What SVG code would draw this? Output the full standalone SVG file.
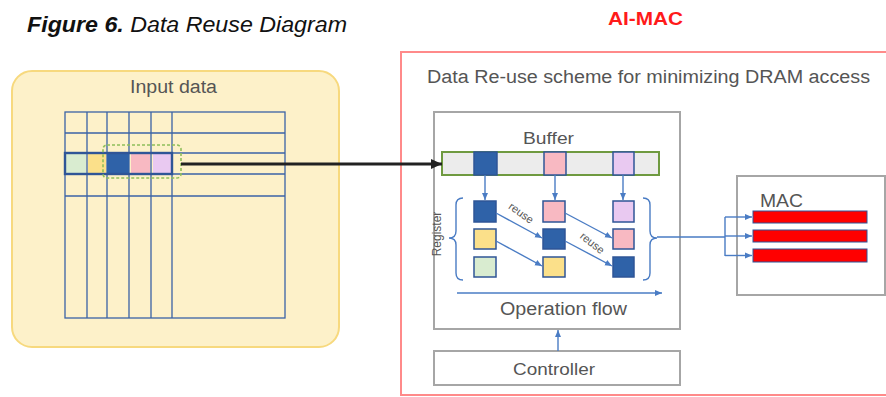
<svg xmlns="http://www.w3.org/2000/svg" width="886" height="397" viewBox="0 0 886 397">
<defs>
<style>
text{font-family:"Liberation Sans",Arial,sans-serif;fill:#555}
.grid{stroke:#3b63a6;stroke-width:1.3;fill:none}
.cell{stroke:#2f5597;stroke-width:1.5}
.db{fill:#2f62a8}.pk{fill:#f8b9c2}.lv{fill:#e9c9f1}.yl{fill:#fbe08a}.gr{fill:#d9ecd0}
.bl{stroke:#4a7cc4;stroke-width:1.4;fill:none}
.box{fill:#fff;stroke:#a6a6a6;stroke-width:2}
.red{fill:#ff0000;stroke:#2f5597;stroke-width:1}
</style>
<marker id="ab" markerWidth="8" markerHeight="8" refX="7" refY="4" orient="auto" markerUnits="userSpaceOnUse"><path d="M0,1 L7,4 L0,7 Z" fill="#4a7cc4"/></marker>
<marker id="ak" markerWidth="12" markerHeight="12" refX="11" refY="6" orient="auto" markerUnits="userSpaceOnUse"><path d="M0,1 L11,6 L0,11 Z" fill="#222"/></marker>
</defs>
<rect width="886" height="397" fill="#fff"/>
<text x="27" y="32" font-size="22" font-style="italic" style="fill:#111" textLength="320" lengthAdjust="spacingAndGlyphs"><tspan font-weight="bold">Figure 6.</tspan> Data Reuse Diagram</text>
<text x="608" y="25" font-size="18" font-weight="bold" style="fill:#ff1a1a" textLength="75" lengthAdjust="spacingAndGlyphs">AI-MAC</text>

<g id="input">
<rect x="12" y="71" width="327" height="276" rx="20" fill="#fdf1c9" stroke="#f7d97e" stroke-width="2"/>
<text x="130" y="93" font-size="18" textLength="87" lengthAdjust="spacingAndGlyphs">Input data</text>
<rect x="65" y="112" width="220" height="206" class="grid" stroke-width="2.2"/>
<path class="grid" d="M87,112V318M107,112V318M129,112V318M151,112V318M172,112V318M65,133H285M65,153H285M65,174H285M65,196H285"/>
<rect x="66" y="154" width="20" height="19" class="gr"/>
<rect x="88" y="154" width="18" height="19" class="yl"/>
<rect x="107" y="154" width="22" height="19" class="db"/>
<rect x="131" y="154" width="19" height="19" class="pk"/>
<rect x="153" y="154" width="19" height="19" class="lv"/>
<rect x="65" y="153" width="107" height="21" fill="none" stroke="#2f5597" stroke-width="2.4"/>
<rect x="103" y="145" width="78" height="33" rx="4" fill="none" stroke="#8fbf5a" stroke-width="1.6" stroke-dasharray="3,2"/>
</g>

<g id="aimac">
<rect x="401" y="52" width="490" height="343" fill="none" stroke="#ff8a8a" stroke-width="2"/>
<text x="427" y="83" font-size="18" textLength="443" lengthAdjust="spacingAndGlyphs">Data Re-use scheme for minimizing DRAM access</text>
</g>

<g id="core">
<rect x="434" y="112" width="246" height="217" class="box"/>
<text x="523" y="144" font-size="17" textLength="51" lengthAdjust="spacingAndGlyphs">Buffer</text>
<rect x="442" y="152" width="217" height="23" fill="#ececec" stroke="#6f9a40" stroke-width="2"/>
<rect x="474" y="152" width="23" height="23" class="cell db"/>
<rect x="544" y="152" width="22" height="23" class="cell pk"/>
<rect x="613" y="152" width="21" height="23" class="cell lv"/>
<text transform="translate(441,234) rotate(-90)" font-size="12" text-anchor="middle">Register</text>
<rect x="474" y="201" width="22" height="21" class="cell db"/>
<rect x="474" y="229" width="22" height="20" class="cell yl"/>
<rect x="474" y="257" width="22" height="20" class="cell gr"/>
<rect x="543" y="201" width="22" height="21" class="cell pk"/>
<rect x="543" y="229" width="22" height="20" class="cell db"/>
<rect x="543" y="257" width="22" height="20" class="cell yl"/>
<rect x="613" y="201" width="21" height="21" class="cell lv"/>
<rect x="613" y="229" width="21" height="20" class="cell pk"/>
<rect x="613" y="257" width="21" height="20" class="cell db"/>
<path class="bl" stroke-width="2" d="M463,198 Q456,198 456,205 L456,231 Q456,238 449,238 Q456,238 456,245 L456,273 Q456,280 463,280"/>
<path class="bl" stroke-width="2" d="M643,198 Q650,198 650,205 L650,231 Q650,238 657,238 Q650,238 650,245 L650,273 Q650,280 643,280"/>
<text transform="translate(519,216) rotate(36)" font-size="11" text-anchor="middle">reuse</text>
<text transform="translate(590,246) rotate(38)" font-size="11" text-anchor="middle">reuse</text>
<text x="500" y="315" font-size="18" textLength="127" lengthAdjust="spacingAndGlyphs">Operation flow</text>
</g>

<g id="mac">
<rect x="737" y="176" width="148" height="119" class="box"/>
<text x="760" y="207" font-size="18" textLength="43" lengthAdjust="spacingAndGlyphs">MAC</text>
<rect x="753" y="211" width="114" height="12" class="red"/>
<rect x="753" y="230" width="114" height="12" class="red"/>
<rect x="753" y="249" width="114" height="13" class="red"/>
</g>

<g id="controller">
<rect x="434" y="351" width="246" height="34" class="box"/>
<text x="513" y="375" font-size="17" textLength="82" lengthAdjust="spacingAndGlyphs">Controller</text>
</g>

<g id="connectors">
<line x1="181" y1="164" x2="442" y2="164" stroke="#222" stroke-width="3" marker-end="url(#ak)"/>
<line x1="485" y1="175" x2="485" y2="200" class="bl" marker-end="url(#ab)"/>
<line x1="555" y1="175" x2="555" y2="200" class="bl" marker-end="url(#ab)"/>
<line x1="623" y1="175" x2="623" y2="200" class="bl" marker-end="url(#ab)"/>
<line x1="496" y1="213" x2="542" y2="238" class="bl" marker-end="url(#ab)"/>
<line x1="496" y1="241" x2="542" y2="266" class="bl" marker-end="url(#ab)"/>
<line x1="565" y1="213" x2="612" y2="238" class="bl" marker-end="url(#ab)"/>
<line x1="565" y1="241" x2="612" y2="266" class="bl" marker-end="url(#ab)"/>
<line x1="457" y1="293" x2="662" y2="293" class="bl" stroke-width="2" marker-end="url(#ab)"/>
<path class="bl" d="M657,237 H725 M725,217 V256"/>
<line x1="725" y1="217" x2="752" y2="217" class="bl" marker-end="url(#ab)"/>
<line x1="725" y1="236" x2="752" y2="236" class="bl" marker-end="url(#ab)"/>
<line x1="725" y1="255.5" x2="752" y2="255.5" class="bl" marker-end="url(#ab)"/>
<line x1="558" y1="351" x2="558" y2="330" class="bl" stroke-width="2" marker-end="url(#ab)"/>
</g>
</svg>
